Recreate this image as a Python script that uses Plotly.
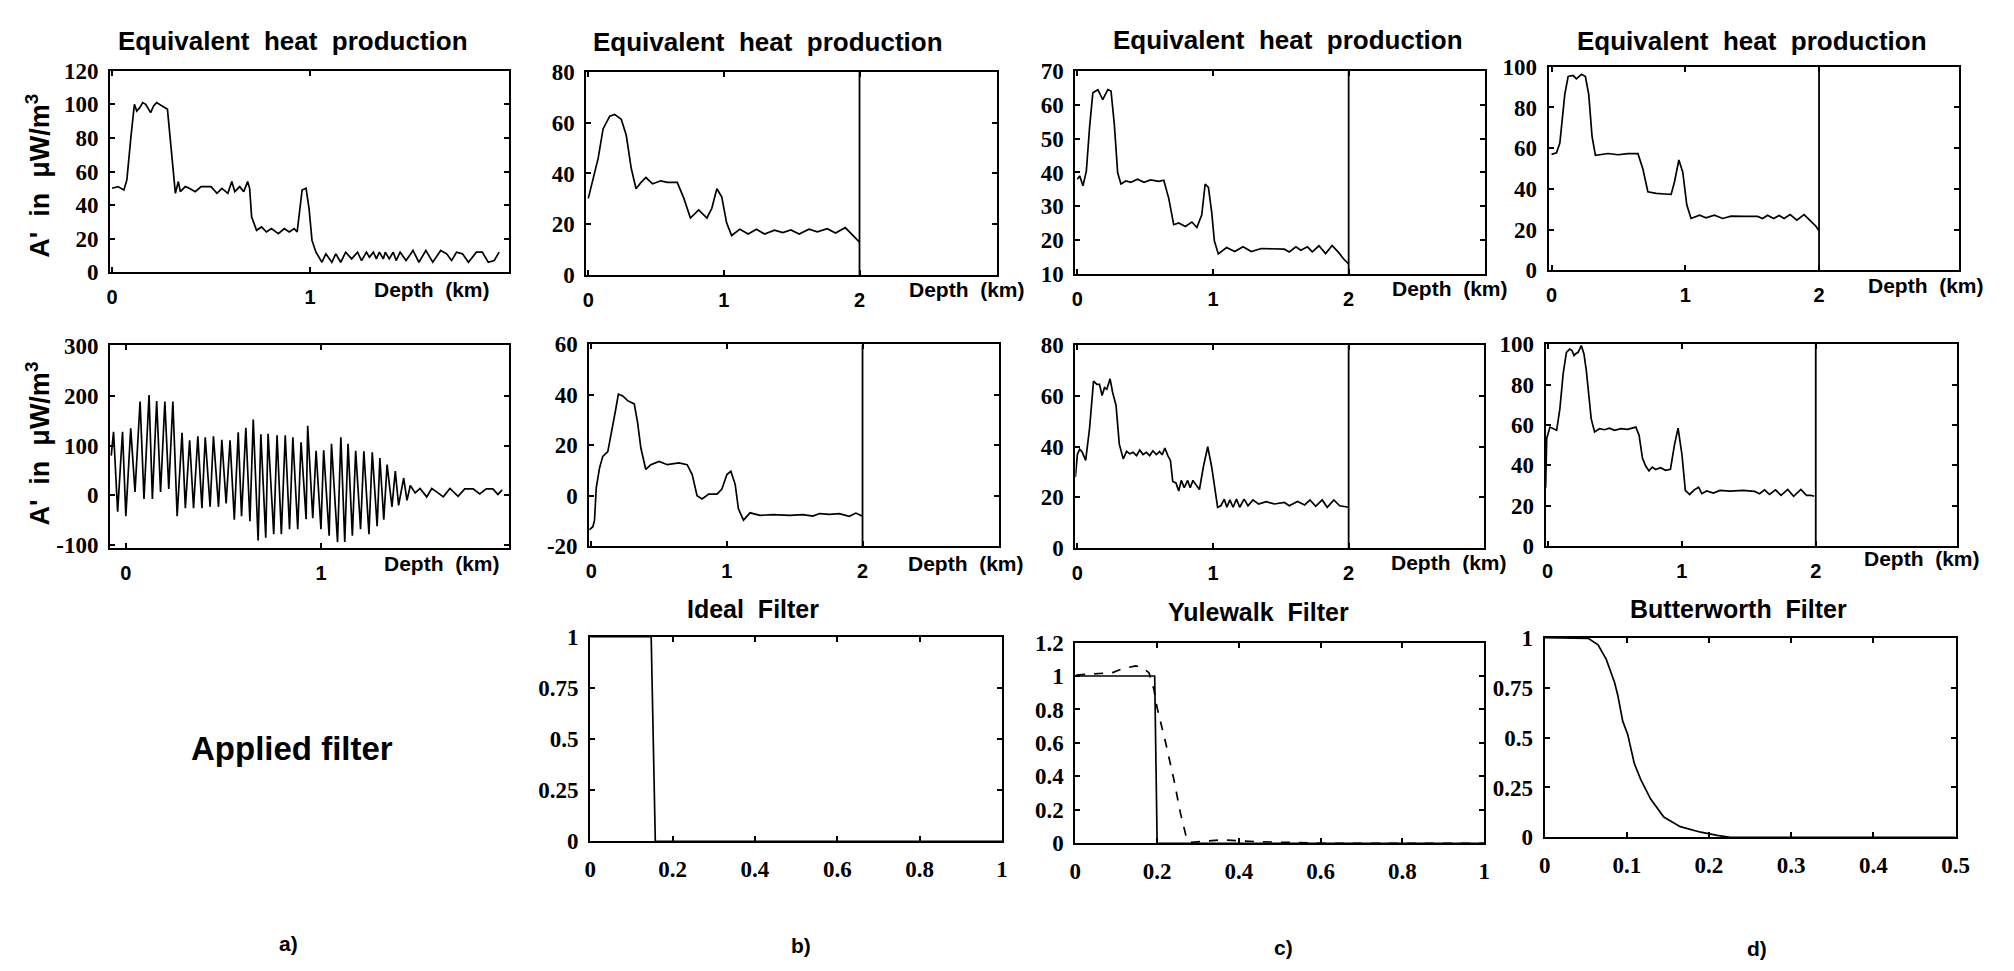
import plotly.graph_objects as go

# ---------------- data ----------------
# a) top: equivalent heat production (original)
A1_DEPTH = [0.00, 0.03, 0.06, 0.075, 0.095, 0.113, 0.125, 0.14, 0.155, 0.17, 0.195, 0.21, 0.225, 0.25, 0.28,
            0.30, 0.32, 0.335, 0.345, 0.37, 0.39, 0.42, 0.45, 0.50, 0.53, 0.555, 0.585, 0.605, 0.62, 0.645,
            0.665, 0.685, 0.695, 0.705, 0.73, 0.755, 0.78, 0.805, 0.84, 0.87, 0.895, 0.92, 0.935, 0.96, 0.98,
            0.995, 1.01, 1.03, 1.06, 1.08, 1.11, 1.13, 1.155, 1.18, 1.21, 1.24, 1.26, 1.285, 1.30, 1.32, 1.335,
            1.35, 1.37, 1.38, 1.40, 1.42, 1.435, 1.455, 1.485, 1.52, 1.55, 1.585, 1.62, 1.66, 1.69, 1.715,
            1.74, 1.77, 1.80, 1.84, 1.87, 1.90, 1.93, 1.955]
A1_HEAT = [50, 51, 49, 55, 80, 100, 96, 98, 101, 100, 95, 99, 101, 99, 97,
           72, 47, 54, 48, 51, 50, 48, 51, 51, 47, 50, 47, 54, 48, 51,
           48, 54, 50, 33, 25, 27, 24, 26, 23, 26, 24, 26, 24, 49, 50,
           38, 19, 12, 6, 11, 6, 11, 6, 12, 8, 12, 7, 12, 9, 12, 8,
           12, 8, 12, 8, 12, 7, 12, 7, 13, 6, 13, 6, 13, 11, 7,
           12, 11, 6, 12, 12, 6, 7, 12]

# a) bottom: noisy input signal
A2_DEPTH = [-0.075, -0.063, -0.042, -0.017, 0.0, 0.025, 0.047, 0.073, 0.093, 0.119, 0.136, 0.158, 0.178, 0.2,
            0.22, 0.241, 0.263, 0.288, 0.305, 0.327, 0.347, 0.369, 0.39, 0.407, 0.432, 0.449, 0.475, 0.492,
            0.514, 0.534, 0.556, 0.576, 0.593, 0.615, 0.636, 0.653, 0.678, 0.692, 0.717, 0.729, 0.758, 0.775,
            0.797, 0.817, 0.839, 0.856, 0.881, 0.898, 0.924, 0.932, 0.958, 0.975, 1.0, 1.014, 1.042, 1.054,
            1.085, 1.102, 1.122, 1.139, 1.161, 1.178, 1.203, 1.22, 1.246, 1.263, 1.288, 1.302, 1.322, 1.339,
            1.364, 1.381, 1.398, 1.424, 1.441, 1.458, 1.483, 1.508, 1.542, 1.568, 1.593, 1.627, 1.661, 1.703,
            1.737, 1.78, 1.814, 1.847, 1.881, 1.907, 1.929]
A2_HEAT = [80, 128, -33, 128, -42, 135, 7, 189, -7, 202, -7, 190, 7, 189,
           13, 189, -42, 126, -26, 111, -26, 119, -26, 117, -23, 119, -23, 112,
           -16, 111, -49, 127, -42, 136, -52, 153, -91, 123, -85, 124, -78, 121,
           -78, 121, -68, 117, -68, 107, -48, 140, -46, 90, -68, 91, -81, 104,
           -94, 117, -94, 104, -81, 90, -68, 89, -78, 87, -62, 75, -49, 62,
           -23, 49, -20, 35, -10, 20, 5, 14, -3, 14, 7, -3, 14, -2,
           13, 13, 3, 13, 13, 2, 11]

# b) ideal filter results
B1_DEPTH = [0.0, 0.036, 0.073, 0.109, 0.158, 0.194, 0.243, 0.28, 0.316, 0.352, 0.389, 0.425, 0.474, 0.535,
            0.583, 0.656, 0.705, 0.753, 0.814, 0.875, 0.911, 0.948, 0.984, 1.02, 1.057, 1.118, 1.179, 1.24,
            1.30, 1.373, 1.434, 1.494, 1.555, 1.628, 1.689, 1.762, 1.823, 1.895, 1.956, 2.0]
B1_HEAT = [30.2, 38.4, 46, 57.5, 62.5, 63.2, 61.3, 55, 42.2, 34, 36.5, 38.4, 35.9, 37.1,
           36.5, 36.5, 30.2, 22.5, 25.7, 22.5, 26.3, 34, 30.8, 20.6, 15.6, 18.1, 16.2, 18.1,
           16.2, 17.7, 16.8, 17.8, 16.2, 18.1, 17.1, 18.3, 16.6, 18.7, 15.6, 13]
B2_DEPTH = [-0.015, 0.012, 0.024, 0.037, 0.061, 0.085, 0.122, 0.146, 0.176, 0.2, 0.232, 0.268, 0.317, 0.341,
            0.366, 0.402, 0.439, 0.5, 0.561, 0.646, 0.707, 0.744, 0.78, 0.817, 0.866, 0.927, 0.963, 1.0,
            1.029, 1.061, 1.085, 1.122, 1.171, 1.244, 1.341, 1.463, 1.561, 1.634, 1.683, 1.756, 1.829,
            1.902, 1.951, 2.0]
B2_HEAT = [-13.6, -12.3, -9.7, 3.2, 11, 15.6, 17.5, 24, 33, 40.3, 39.6, 37.7, 36.4, 29.2,
           18.8, 10.4, 12.3, 13.6, 12.3, 13, 12.3, 8.4, 0, -1.3, 0.6, 0.6, 2.6, 8.4,
           9.7, 4.5, -5.2, -9.7, -6.8, -7.8, -7.5, -7.8, -7.5, -8.1, -7.1, -7.4, -7.1,
           -8.2, -6.9, -8.2]

# c) Yulewalk filter results
C1_DEPTH = [0.0, 0.017, 0.041, 0.066, 0.09, 0.114, 0.151, 0.187, 0.224, 0.248, 0.272, 0.297, 0.321, 0.358,
            0.394, 0.443, 0.491, 0.54, 0.6, 0.637, 0.674, 0.71, 0.747, 0.796, 0.844, 0.881, 0.917, 0.942,
            0.966, 0.99, 1.01, 1.039, 1.1, 1.16, 1.221, 1.282, 1.355, 1.453, 1.526, 1.562, 1.611, 1.647,
            1.696, 1.732, 1.781, 1.83, 1.878, 1.927, 1.963, 2.0]
C1_HEAT = [38, 39, 36.1, 40.4, 53.4, 63.5, 64.4, 61.5, 64.4, 64, 54.3, 39.9, 36.6, 37.5,
           37.1, 38, 37.1, 37.8, 37.4, 37.7, 32.3, 24.6, 25.1, 24.1, 25.4, 23.8, 27.5, 36.6,
           35.6, 28.4, 19.8, 16, 17.9, 16.7, 18.1, 16.7, 17.6, 17.4, 17.4, 16.6, 18.1, 17.1,
           18.1, 16.6, 18.4, 16.1, 18.5, 16.4, 14.5, 13.1]
C2_DEPTH = [-0.015, 0.0, 0.017, 0.036, 0.061, 0.09, 0.119, 0.144, 0.163, 0.182, 0.2, 0.217, 0.241, 0.26,
            0.285, 0.309, 0.338, 0.363, 0.387, 0.411, 0.436, 0.46, 0.484, 0.509, 0.533, 0.557, 0.582, 0.606,
            0.625, 0.645, 0.667, 0.686, 0.703, 0.727, 0.747, 0.766, 0.788, 0.813, 0.832, 0.852, 0.874, 0.9,
            0.929, 0.961, 0.99, 1.015, 1.034, 1.058, 1.083, 1.102, 1.124, 1.148, 1.173, 1.197, 1.229, 1.258,
            1.294, 1.336, 1.392, 1.453, 1.526, 1.562, 1.623, 1.676, 1.715, 1.757, 1.805, 1.842, 1.891,
            1.934, 1.976, 2.0]
C2_HEAT = [28, 37, 39, 37.8, 34.6, 47.4, 65.9, 64.6, 64.6, 60.2, 63.3, 62.7, 66.8, 61.4,
           56.3, 41, 35.2, 38.2, 37.2, 37.8, 36.5, 38.7, 36.9, 37.8, 36.5, 38.4, 36.9, 38.1,
           36.8, 39.5, 36.5, 34.6, 26.3, 25.7, 22.5, 26.7, 23.8, 26.7, 23.8, 26.7, 25, 23.1,
           32.1, 40, 32.1, 23.1, 16.1, 16.7, 19.3, 16.1, 19, 16.1, 19.3, 16.1, 19.3, 16.7,
           19, 17.4, 18.3, 17.4, 18, 16.7, 18.4, 17, 19, 16.5, 19, 16.1, 19,
           16.7, 16.3, 16.1]

# d) Butterworth filter results
D1_DEPTH = [0.0, 0.037, 0.062, 0.099, 0.124, 0.161, 0.186, 0.224, 0.253, 0.278, 0.303, 0.328, 0.373, 0.422,
            0.497, 0.571, 0.646, 0.683, 0.72, 0.783, 0.845, 0.894, 0.919, 0.952, 0.981, 1.011, 1.043, 1.106,
            1.155, 1.217, 1.28, 1.342, 1.441, 1.54, 1.578, 1.615, 1.66, 1.702, 1.739, 1.784, 1.834, 1.888,
            1.938, 1.975, 2.0]
D1_HEAT = [57, 57.7, 62.5, 86.4, 95.2, 95.7, 94.1, 96.3, 95.2, 86.4, 65.7, 56.5, 56.9, 57.4,
           56.8, 57.3, 57.3, 49.8, 38.6, 37.8, 37.5, 37.3, 43.4, 54.2, 48.2, 32.2, 25.5, 27.1,
           25.8, 27.1, 25.5, 26.6, 26.5, 26.5, 25.5, 27.1, 25.5, 27, 25.5, 27.4, 24.7, 27.4,
           24.2, 21.8, 19.5]
D2_DEPTH = [-0.015, -0.007, 0.017, 0.042, 0.067, 0.091, 0.116, 0.14, 0.165, 0.182, 0.197, 0.207, 0.227, 0.251,
            0.271, 0.288, 0.305, 0.325, 0.35, 0.387, 0.424, 0.461, 0.498, 0.547, 0.596, 0.633, 0.658, 0.682,
            0.707, 0.731, 0.756, 0.781, 0.805, 0.842, 0.879, 0.916, 0.946, 0.973, 1.002, 1.027, 1.059, 1.094,
            1.126, 1.15, 1.187, 1.236, 1.286, 1.36, 1.458, 1.544, 1.581, 1.618, 1.655, 1.7, 1.741, 1.791,
            1.835, 1.889, 1.931, 1.963, 1.988]
D2_HEAT = [29, 53.4, 59, 58.2, 57.4, 67.9, 85.6, 96.1, 97.7, 96.9, 94.5, 95.3, 96.1, 99.4,
           95.3, 87.3, 74.4, 63.1, 56.6, 58.2, 57.7, 58.5, 57.4, 58.2, 57.9, 58.5, 59, 55,
           43.7, 39.7, 37.3, 39.2, 38, 38.9, 37.6, 38.1, 50.2, 58.5, 45.3, 27.6, 25.6, 27.9,
           29.2, 26, 27.3, 26.3, 27.6, 27.3, 27.6, 27.1, 26, 27.9, 25.6, 27.9, 25.2, 28.1,
           24.7, 28.1, 25.2, 25.2, 24.7]

MAX_DEPTH = 2  # end of the computed profile (vertical line)

# filter responses
IDEAL_F = [0, 0.148, 0.158, 1]
IDEAL_G = [1, 1, 0, 0]
YULE_IDEAL_F = [0, 0.194, 0.2, 1]
YULE_IDEAL_G = [1, 1, 0, 0]
YULE_F = [0.002, 0.091, 0.116, 0.148, 0.164, 0.18, 0.192, 0.2, 0.22, 0.241, 0.257, 0.273, 0.285, 0.358,
          0.439, 0.6, 1.0]
YULE_G = [1.006, 1.02, 1.045, 1.06, 1.05, 1.02, 0.92, 0.81, 0.61, 0.38, 0.18, 0.02, 0.006, 0.02,
          0.01, 0.0, 0.0]
BUTTER_F = [0, 0.053, 0.065, 0.075, 0.085, 0.089, 0.095, 0.101, 0.109, 0.117, 0.129, 0.145, 0.165, 0.19,
            0.21, 0.226, 0.5]
BUTTER_G = [1, 0.997, 0.964, 0.891, 0.777, 0.712, 0.582, 0.517, 0.371, 0.289, 0.192, 0.102, 0.054, 0.026,
            0.01, 0.0, 0.0]

TITLE_EHP = "Equivalent\u00a0 heat\u00a0 production"
Y_TITLE = "A'\u00a0 in\u00a0 \u03bcW/m<sup>3</sup>"
DEPTH_LABEL = "Depth\u00a0 (km)"

# ---------------- layout ----------------
W, H = 2014, 971
SERIF = "Liberation Serif, Times New Roman, DejaVu Serif, serif"
SANS = "Liberation Sans, Arial, sans-serif"


def lab(v):
    return "<b>%g</b>" % v


fig = go.Figure()

panels = [
    dict(box=(97, 500, 52, 259), xr=[-0.01, 2.005], yr=[0, 120], xt=[0, 1], yt=list(range(0, 121, 20)),
         kind="depth", series=[(A1_DEPTH, A1_HEAT, "solid")], vline=False),
    dict(box=(578, 993, 53, 262), xr=[-0.015, 3.015], yr=[0, 80], xt=[0, 1, 2], yt=list(range(0, 81, 20)),
         kind="depth", series=[(B1_DEPTH, B1_HEAT, "solid")], vline=True),
    dict(box=(1072, 1486, 52, 261), xr=[-0.015, 3.007], yr=[10, 70], xt=[0, 1, 2], yt=list(range(10, 71, 10)),
         kind="depth", series=[(C1_DEPTH, C1_HEAT, "solid")], vline=True),
    dict(box=(1550, 1965, 48, 257), xr=[-0.022, 3.05], yr=[0, 100], xt=[0, 1, 2], yt=list(range(0, 101, 20)),
         kind="depth", series=[(D1_DEPTH, D1_HEAT, "solid")], vline=True),
    dict(box=(97, 500, 334, 542), xr=[-0.081, 1.964], yr=[-106, 302], xt=[0, 1], yt=[-100, 0, 100, 200, 300],
         kind="depth", series=[(A2_DEPTH, A2_HEAT, "solid")], vline=False),
    dict(box=(581, 995, 333, 540), xr=[-0.015, 3.007], yr=[-20, 60], xt=[0, 1, 2], yt=list(range(-20, 61, 20)),
         kind="depth", series=[(B2_DEPTH, B2_HEAT, "solid")], vline=True),
    dict(box=(1072, 1485, 334, 542), xr=[-0.015, 3.0], yr=[0, 80], xt=[0, 1, 2], yt=list(range(0, 81, 20)),
         kind="depth", series=[(C2_DEPTH, C2_HEAT, "solid")], vline=True),
    dict(box=(1547, 1962, 333, 540), xr=[-0.015, 3.05], yr=[0, 100], xt=[0, 1, 2], yt=list(range(0, 101, 20)),
         kind="depth", series=[(D2_DEPTH, D2_HEAT, "solid")], vline=True),
    dict(box=(582, 998, 633, 843), xr=[0, 1], yr=[0, 1], xt=[0, 0.2, 0.4, 0.6, 0.8, 1],
         yt=[0, 0.25, 0.5, 0.75, 1], kind="filter", series=[(IDEAL_F, IDEAL_G, "solid")], vline=False),
    dict(box=(1072, 1485, 639, 845), xr=[0, 1], yr=[0, 1.2], xt=[0, 0.2, 0.4, 0.6, 0.8, 1],
         yt=[0, 0.2, 0.4, 0.6, 0.8, 1, 1.2], kind="filter",
         series=[(YULE_IDEAL_F, YULE_IDEAL_G, "solid"), (YULE_F, YULE_G, "dash")], vline=False),
    dict(box=(1546, 1961, 634, 839), xr=[0, 0.5], yr=[0, 1], xt=[0, 0.1, 0.2, 0.3, 0.4, 0.5],
         yt=[0, 0.25, 0.5, 0.75, 1], kind="filter", series=[(BUTTER_F, BUTTER_G, "solid")], vline=False),
]

layout = {}
for i, p in enumerate(panels, start=1):
    x0, x1, y0, y1 = p["box"]
    xa = "xaxis" if i == 1 else "xaxis%d" % i
    ya = "yaxis" if i == 1 else "yaxis%d" % i
    xref = "x" if i == 1 else "x%d" % i
    yref = "y" if i == 1 else "y%d" % i
    if p["kind"] == "depth":
        xfont = dict(family=SANS, size=20, color="black")
    else:
        xfont = dict(family=SERIF, size=23, color="black")
    layout[xa] = dict(domain=[x0 / W, x1 / W], range=p["xr"], anchor=yref, showgrid=False, zeroline=False,
                      showline=True, linecolor="black", linewidth=2, mirror="ticks", ticks="inside",
                      ticklen=5, tickwidth=1.5, tickcolor="black", tickvals=p["xt"],
                      ticktext=[lab(v) for v in p["xt"]],
                      tickfont=xfont, ticklabelstandoff=6, fixedrange=True)
    layout[ya] = dict(domain=[1 - y1 / H, 1 - y0 / H], range=p["yr"], anchor=xref, showgrid=False,
                      zeroline=False, showline=True, linecolor="black", linewidth=2, mirror="ticks",
                      ticks="inside", ticklen=5, tickwidth=1.5, tickcolor="black", tickvals=p["yt"],
                      ticktext=[lab(v) for v in p["yt"]],
                      tickfont=dict(family=SERIF, size=23, color="black"),
                      ticklabelstandoff=5, fixedrange=True)
    for xs, ys, dash in p["series"]:
        fig.add_trace(go.Scatter(x=xs, y=ys, mode="lines", xaxis=xref, yaxis=yref, showlegend=False,
                                 line=dict(color="black", width=1.7, dash=dash), hoverinfo="skip"))
    if p["vline"]:
        fig.add_trace(go.Scatter(x=[MAX_DEPTH, MAX_DEPTH], y=p["yr"], mode="lines", xaxis=xref, yaxis=yref,
                                 showlegend=False, line=dict(color="black", width=1.8), hoverinfo="skip"))

annotations = []


def ann(text, x, y, size, family=SANS, angle=0):
    annotations.append(dict(text="<b>%s</b>" % text, x=x / W, y=1 - y / H, xref="paper", yref="paper",
                            showarrow=False, xanchor="center", yanchor="middle", textangle=angle,
                            font=dict(family=family, size=size, color="black")))


for cx, cy in [(282, 22), (762, 23), (1287, 21), (1755, 22)]:
    ann(TITLE_EHP, cx, cy, 26)
ann("Ideal\u00a0 Filter", 746, 605, 25)
ann("Yulewalk\u00a0 Filter", 1257, 608, 25)
ann("Butterworth\u00a0 Filter", 1742, 605, 25)
ann(Y_TITLE, 24, 160, 27, angle=-90)
ann(Y_TITLE, 24, 435, 27, angle=-90)
for cx, cy in [(422, 277), (963, 277), (1450, 276), (1931, 273), (432, 558), (962, 558), (1449, 557),
               (1927, 553)]:
    ann(DEPTH_LABEL, cx, cy, 21)
ann("Applied filter", 281, 748, 33)
for t, cx, cy in [("a)", 277, 948), ("b)", 795, 950), ("c)", 1282, 952), ("d)", 1760, 953)]:
    ann(t, cx, cy, 21)

fig.update_layout(width=W, height=H, margin=dict(l=0, r=0, t=0, b=0), paper_bgcolor="white",
                  plot_bgcolor="white", showlegend=False, annotations=annotations, **layout)

fig.write_html("out.html")
